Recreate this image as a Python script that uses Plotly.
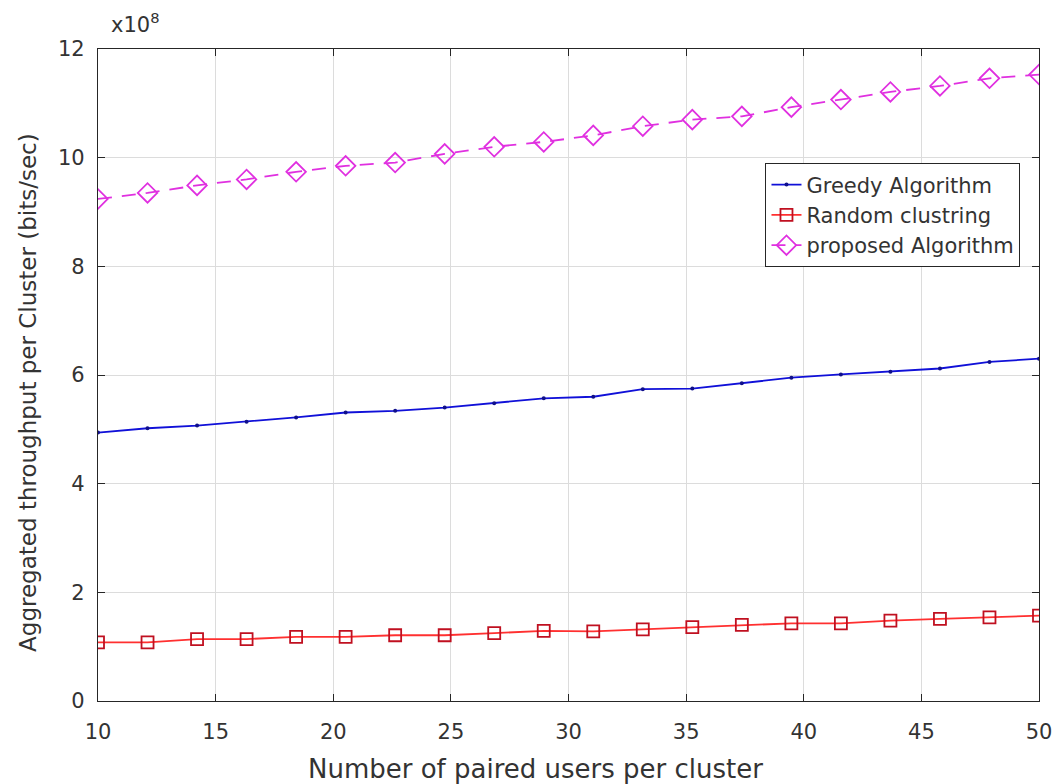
import numpy as np
import plotly.graph_objects as go

users = np.linspace(10, 50, 20)

greedy = [4.94, 5.02, 5.07, 5.14, 5.22, 5.31, 5.34, 5.40, 5.48, 5.57,
          5.60, 5.74, 5.75, 5.85, 5.95, 6.01, 6.06, 6.12, 6.24, 6.30]
random_cl = [1.08, 1.08, 1.14, 1.14, 1.18, 1.18, 1.21, 1.21, 1.25, 1.29,
             1.28, 1.32, 1.36, 1.40, 1.43, 1.43, 1.48, 1.51, 1.54, 1.57]
proposed = [9.24, 9.35, 9.49, 9.60, 9.74, 9.85, 9.91, 10.07, 10.20, 10.29,
            10.41, 10.58, 10.70, 10.76, 10.93, 11.07, 11.21, 11.32, 11.46, 11.53]

x_ticks = [10, 15, 20, 25, 30, 35, 40, 45, 50]
y_ticks = [0, 2, 4, 6, 8, 10, 12]

font_family = "DejaVu Sans, Arial, sans-serif"
text_color = "#333333"

fig = go.Figure()
fig.add_trace(go.Scatter(
    x=users, y=greedy, name="Greedy Algorithm", mode="lines+markers",
    line=dict(color="#1010d8", width=1.8),
    marker=dict(symbol="circle", size=4, color="#10108a"),
))
fig.add_trace(go.Scatter(
    x=users, y=random_cl, name="Random clustring", mode="lines+markers",
    line=dict(color="#ff3030", width=1.8),
    marker=dict(symbol="square-open", size=12, color="#c01020", line=dict(width=1.8)),
))
fig.add_trace(go.Scatter(
    x=users, y=proposed, name="proposed Algorithm", mode="lines+markers",
    line=dict(color="#e030e0", width=1.8, dash="14px,10px"),
    marker=dict(symbol="diamond-open", size=15, color="#e030e0", line=dict(width=1.8)),
))

axis_common = dict(
    showline=True, linecolor="#262626", linewidth=1.3, mirror="ticks",
    ticks="inside", ticklen=7, tickcolor="#262626",
    showgrid=True, gridcolor="#dcdcdc", gridwidth=1, zeroline=False,
    tickfont=dict(family=font_family, size=21, color=text_color),
)

fig.update_xaxes(range=[10, 50], tickvals=x_ticks, ticklabelstandoff=12, **axis_common)
fig.update_yaxes(range=[0, 12], tickvals=y_ticks, ticklabelstandoff=8, **axis_common)

fig.add_annotation(text="Aggregated throughput per Cluster (bits/sec)", xref="paper", yref="paper",
                   x=-0.0744, y=0.474, xanchor="center", yanchor="middle", showarrow=False,
                   textangle=-90,
                   font=dict(family=font_family, size=23, color=text_color))
fig.add_annotation(text="Number of paired users per cluster", xref="paper", yref="paper",
                   x=0.465, y=-0.078, xanchor="center", yanchor="top", showarrow=False,
                   font=dict(family=font_family, size=26, color=text_color))
fig.add_annotation(text="x10<sup>8</sup>", xref="paper", yref="paper",
                   x=0.012, y=1.015, xanchor="left", yanchor="bottom", showarrow=False,
                   font=dict(family=font_family, size=21, color=text_color))

fig.update_layout(
    width=1057, height=784,
    margin=dict(l=98, r=18, t=49, b=83, autoexpand=False),
    paper_bgcolor="white", plot_bgcolor="white",
    showlegend=True,
    legend=dict(x=0.98, y=0.825, xanchor="right", yanchor="top",
                bgcolor="white", bordercolor="#262626", borderwidth=1.3,
                font=dict(family=font_family, size=21, color=text_color),
                tracegroupgap=0),
)

fig.write_html("out.html")
